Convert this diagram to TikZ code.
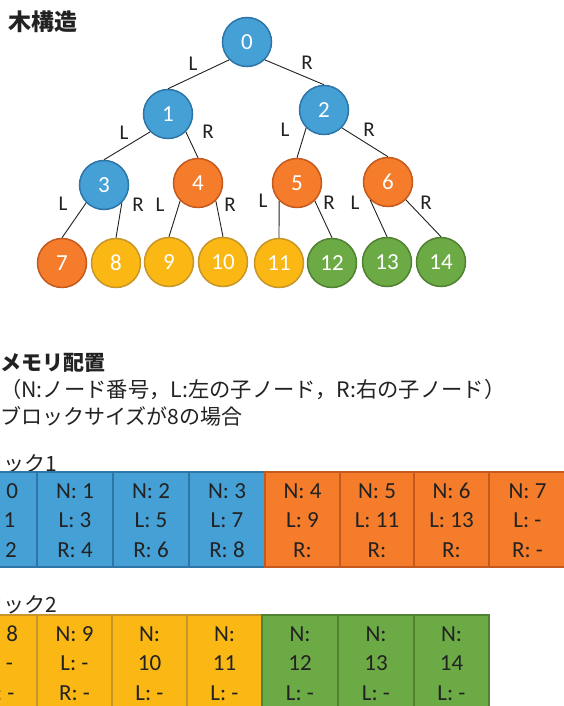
\documentclass[tikz,border=0pt]{standalone}
\usepackage{fontspec}
\setmainfont{Carlito}
\newfontfamily\jp{Noto Sans CJK JP}
\definecolor{bF}{HTML}{45A0D6}\definecolor{bD}{HTML}{2E75A8}
\definecolor{oF}{HTML}{F47C2A}\definecolor{oD}{HTML}{C55A1E}
\definecolor{yF}{HTML}{FBB814}\definecolor{yD}{HTML}{C89628}
\definecolor{gF}{HTML}{6CAA46}\definecolor{gD}{HTML}{508232}
\definecolor{ink}{HTML}{222222}
\begin{document}
\begin{tikzpicture}[x=1pt,y=-1pt,
  tnode/.style={circle, minimum size=49pt, inner sep=0pt, line width=1.5pt, text=white, font=\fontsize{23}{26}\selectfont},
  edge/.style={draw=ink, line width=0.9pt},
  elab/.style={inner sep=0pt, text=ink, font=\fontsize{21}{24}\selectfont},
  cellbox/.style={rectangle, inner sep=0pt, line width=1.6pt, minimum height=95pt},
  celltxt/.style={inner sep=0pt, text=ink, font=\fontsize{23}{26}\selectfont, anchor=base},
  jtitle/.style={inner sep=0pt, text=ink, anchor=base west, font=\jp\bfseries\fontsize{21}{25}\selectfont},
  jtext/.style={inner sep=0pt, text=ink, font=\jp\fontsize{21}{25}\selectfont}]
\useasboundingbox (0,0) rectangle (564,706);
\clip (0,0) rectangle (564,706);
\fill[white] (0,0) rectangle (564,706);
% titles
\node[jtitle, font=\jp\bfseries\fontsize{23}{26}\selectfont] (t1) at (8,31) {木構造};
\node[jtitle] (t2) at (0,370) {メモリ配置};
\node[jtext, anchor=base west, font=\jp\fontsize{21.3}{25}\selectfont] (t3) at (0,397) {（N:ノード番号，L:左の子ノード，R:右の子ノード）};
\node[jtext, anchor=base west] (t4) at (0,424) {ブロックサイズが8の場合};
\node[jtext, anchor=base east] (b1) at (57,471) {ブロック1};
\node[jtext, anchor=base east] (b2) at (57,612) {ブロック2};
% tree nodes
\foreach \n/\x/\y/\cc in {0/247/42/b,1/168/114/b,2/324/110/b,3/104/185/b,4/198/183/o,5/297/183/o,6/388/182/o,
  7/62/263/o,8/116/263/y,9/169/262/y,10/223/262/y,11/279/263/y,12/332/263/g,13/387/262/g,14/441/262/g}{
  \node[tnode, fill=\cc F, draw=\cc D] (n\n) at (\x,\y) {\n};
}
% edges
\foreach \p/\l/\r in {0/1/2,1/3/4,2/5/6,3/7/8,4/9/10,5/11/12,6/13/14}{
  \draw[edge] (n\p.south west) -- (n\l.north);
  \draw[edge] (n\p.south east) -- (n\r.north);
}
% edge labels
\foreach \nm/\x/\y/\t in {l0/193/64/L,r0/307/63/R,l1/124/133/L,r1/208/132/R,l2/285/130/L,r2/369/130/R,
  l3/63/204/L,r3/138/205/R,l4/160/205/L,r4/230/205/R,l5/263/201/L,r5/329/203/R,l6/355/203/L,r6/426/203/R}{
  \node[elab] (\nm) at (\x,\y) {\t};
}
% block 1
\foreach \nm/\xa/\xb/\cc/\la/\lb/\lc in {c0/-39/37/b/N: 0/L: 1/R: 2, c1/37/113/b/N: 1/L: 3/R: 4,
  c2/113/189/b/N: 2/L: 5/R: 6, c3/189/265/b/N: 3/L: 7/R: 8, c4/265/340/o/N: 4/L: 9/R:,
  c5/340/414/o/N: 5/L: 11/R:, c6/414/489/o/N: 6/L: 13/R:, c7/489/566/o/N: 7/L: -/R: -}{
  \pgfmathsetmacro\w{\xb-\xa}
  \pgfmathsetmacro\xm{(\xa+\xb)/2}
  \node[cellbox, fill=\cc F, draw=\cc D, minimum width=\w pt] (\nm) at (\xm,519.5) {};
  \node[celltxt] (\nm a) at (\xm,498) {\la};
  \node[celltxt] (\nm b) at (\xm,527.5) {\lb};
  \node[celltxt] (\nm c) at (\xm,557) {\lc};
}
% block 2
\foreach \nm/\xa/\xb/\cc/\la/\lb/\lc in {d8/-39/37/y/N: 8/L: -/R: -, d9/37/112/y/N: 9/L: -/R: -,
  d10/112/187/y/N:/10/L: -, d11/187/262/y/N:/11/L: -, d12/262/338/g/N:/12/L: -,
  d13/338/414/g/N:/13/L: -, d14/414/489/g/N:/14/L: -}{
  \pgfmathsetmacro\w{\xb-\xa}
  \pgfmathsetmacro\xm{(\xa+\xb)/2}
  \node[cellbox, fill=\cc F, draw=\cc D, minimum width=\w pt] (\nm) at (\xm,662.5) {};
  \node[celltxt] (\nm a) at (\xm,641) {\la};
  \node[celltxt] (\nm b) at (\xm,670.5) {\lb};
  \node[celltxt] (\nm c) at (\xm,700) {\lc};
}
\end{tikzpicture}
\end{document}
